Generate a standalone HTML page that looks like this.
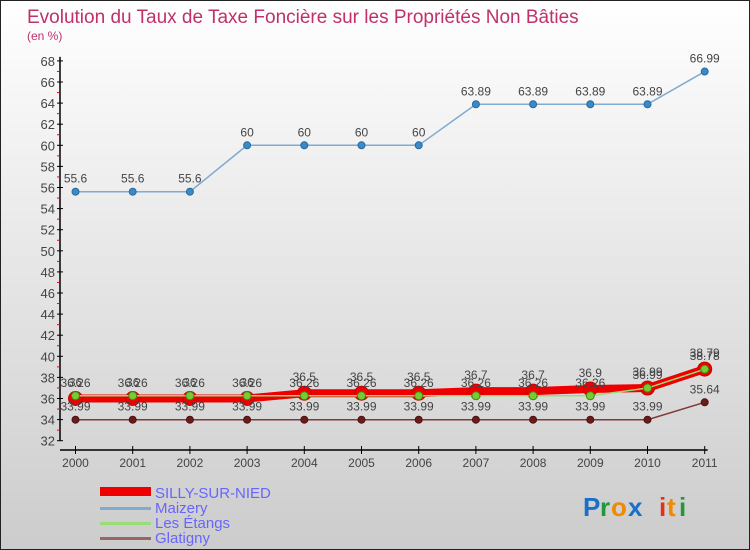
<!DOCTYPE html>
<html><head><meta charset="utf-8">
<style>
body{margin:0;width:750px;height:550px;overflow:hidden;font-family:"Liberation Sans",sans-serif}
svg{display:block}
</style></head>
<body>
<svg id="c" width="750" height="550" xmlns="http://www.w3.org/2000/svg">
<defs><linearGradient id="bg" x1="0" y1="0" x2="0" y2="1"><stop offset="0" stop-color="#ffffff"/><stop offset="1" stop-color="#cccccc"/></linearGradient></defs>
<rect x="0.5" y="0.5" width="749" height="549" fill="url(#bg)" stroke="#222"/>
<text x="27" y="23" font-size="19" fill="#c0306a">Evolution du Taux de Taxe Foncière sur les Propriétés Non Bâties</text>
<text x="27" y="40" font-size="12" fill="#c0306a">(en %)</text>
<g id="axes"></g><g id="series"></g><g id="labels"></g>
<g>
<rect x="100" y="487" width="51" height="9" fill="#ee0000"/>
<text x="155" y="498" font-size="15" fill="#6666ff">SILLY-SUR-NIED</text>
<rect x="100" y="507" width="51" height="3" fill="#80aad0"/>
<text x="155" y="513" font-size="15" fill="#6666ff">Maizery</text>
<rect x="100" y="522" width="51" height="3" fill="#99dd77"/>
<text x="155" y="528" font-size="15" fill="#6666ff">Les Étangs</text>
<rect x="100" y="537" width="51" height="3" fill="#996666"/>
<text x="155" y="543" font-size="15" fill="#6666ff">Glatigny</text>
</g>
<g font-size="26" font-weight="bold">
<text x="583" y="516" fill="#1a6fc8">P</text><text x="600" y="516" fill="#1e9a3a">r</text><text x="611" y="516" fill="#f08a00">o</text><text x="628" y="516" fill="#1a6fc8">x</text><text x="659" y="516" fill="#e83010">i</text><text x="667" y="516" fill="#f08a00">t</text><text x="679" y="516" fill="#1e9a3a">i</text>
</g>
</svg>
<script>
const years=["2000","2001","2002","2003","2004","2005","2006","2007","2008","2009","2010","2011"];
const yTicks=[32,34,36,38,40,42,44,46,48,50,52,54,56,58,60,62,64,66,68];
const silly=[36,36,36,36,36.5,36.5,36.5,36.7,36.7,36.9,36.99,38.79];
const maizery=[55.6,55.6,55.6,60,60,60,60,63.89,63.89,63.89,63.89,66.99];
const etangs=[36.26,36.26,36.26,36.26,36.26,36.26,36.26,36.26,36.26,36.26,36.99,38.78];
const glatigny=[33.99,33.99,33.99,33.99,33.99,33.99,33.99,33.99,33.99,33.99,33.99,35.64];
const NS="http://www.w3.org/2000/svg";
const X=i=>75.5+i*57.2;
const Y=v=>440.7-(v-32)*10.55;
function mk(p,t,a){const e=document.createElementNS(NS,t);for(const k in a)e.setAttribute(k,a[k]);p.appendChild(e);return e;}
const ax=document.getElementById('axes'),se=document.getElementById('series'),lb=document.getElementById('labels');
let e=mk(ax,'line',{x1:60,y1:Y(32),x2:60,y2:Y(68)-4,stroke:'#000','stroke-width':1.5});

e=mk(ax,'line',{x1:60,y1:450,x2:X(11)+3,y2:450,stroke:'#000','stroke-width':1.5});

yTicks.forEach(v=>{
 mk(ax,'line',{x1:57,y1:Y(v),x2:63,y2:Y(v),stroke:'#000','stroke-width':1});
 if(v<68)mk(ax,'line',{x1:57,y1:Y(v+1),x2:60,y2:Y(v+1),stroke:'#e00','stroke-width':1});
 const t=mk(ax,'text',{x:55,y:Y(v)+5,'text-anchor':'end','font-size':13,fill:'#444'});t.textContent=v;
 
});
years.forEach((y,i)=>{
 mk(ax,'line',{x1:X(i),y1:446,x2:X(i),y2:454,stroke:'#000','stroke-width':1});
 const t=mk(ax,'text',{x:X(i),y:467,'text-anchor':'middle','font-size':12,fill:'#444'});t.textContent=y;
 
});
function series(d,name,color,w,r,fill,stroke,sw,lblDy){
 const p=mk(se,'polyline',{points:d.map((v,i)=>X(i)+','+Y(v)).join(' '),fill:'none',stroke:color,'stroke-width':w});
 
 d.forEach((v,i)=>{
  const c=mk(se,'circle',{cx:X(i),cy:Y(v),r:r,fill:fill,stroke:stroke,'stroke-width':sw});
  
  const t=mk(lb,'text',{x:X(i),y:Y(v)+lblDy,'text-anchor':'middle','font-size':12,fill:'#444'});t.textContent=v;
  
 });
}
series(maizery,'maizery','#80aad0',1.5,3.5,'#3b8ac8','#2a6a9a',1,-9);
series(glatigny,'glatigny','#803838',1.5,3.5,'#6a1c1c','#501010',1,-9);
series(silly,'silly','#ee0000',8,7,'#ee0000','#cc0000',1,-12);
series(etangs,'etangs','#99dd77',1.5,4,'#77cc33','#448811',1,-9);
</script>
</body></html>
